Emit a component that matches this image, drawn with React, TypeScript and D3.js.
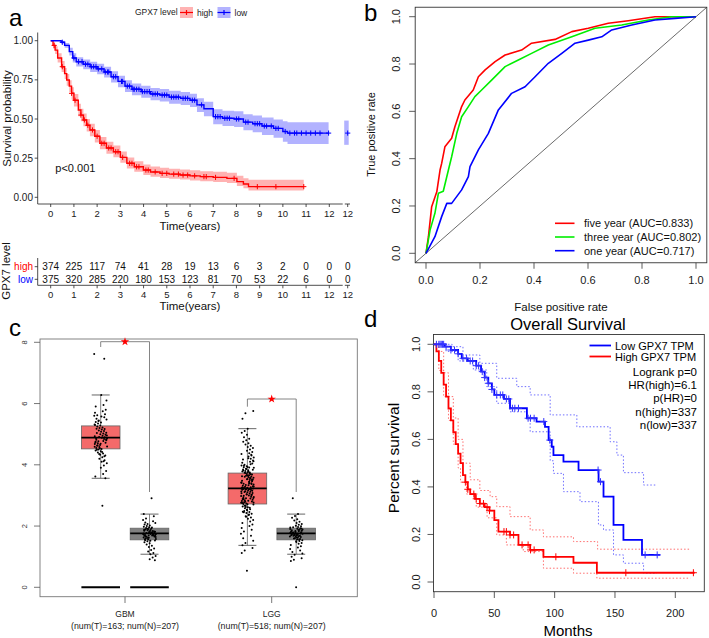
import React from "react";
import * as d3 from "d3";

const FONT = "'Liberation Sans', Arial, Helvetica, sans-serif";

// ---------------- Panel a: KM (years) ----------------
const yearTicks = [0, 1, 2, 3, 4, 5, 6, 7, 8, 9, 10, 11, 12];
const survTicks = [0, 0.25, 0.5, 0.75, 1];
const survTickLabels = ["0.00", "0.25", "0.50", "0.75", "1.00"];

const highT = [0,0.1,0.19,0.3,0.47,0.6,0.69,0.8,0.9,1.0,1.19,1.3,1.41,1.55,1.69,1.9,2.12,2.4,2.7,3.0,3.28,3.6,3.99,4.3,4.71,5.1,5.57,6.0,6.44,7.0,7.59,8.02,8.3,8.52,10.9];
const highS = [1.0,0.97,0.94,0.89,0.834,0.79,0.749,0.71,0.664,0.62,0.557,0.525,0.494,0.46,0.43,0.39,0.345,0.315,0.291,0.255,0.217,0.195,0.174,0.162,0.153,0.148,0.142,0.137,0.132,0.127,0.121,0.10,0.085,0.068,0.068];
const highU = [1.0,0.99,0.965,0.92,0.87,0.825,0.787,0.748,0.703,0.66,0.598,0.566,0.535,0.5,0.47,0.43,0.385,0.355,0.33,0.293,0.254,0.231,0.21,0.197,0.188,0.183,0.177,0.172,0.167,0.163,0.157,0.137,0.122,0.112,0.112];
const highL = [1.0,0.95,0.915,0.86,0.8,0.755,0.712,0.672,0.625,0.58,0.517,0.485,0.453,0.42,0.39,0.35,0.307,0.278,0.255,0.22,0.184,0.163,0.143,0.132,0.124,0.119,0.113,0.108,0.103,0.097,0.092,0.072,0.058,0.043,0.043];
const highCens = [0.15,0.5,0.9,1.05,1.3,1.45,1.6,1.8,2.0,2.2,2.3,2.5,2.6,2.8,2.9,3.1,3.4,3.5,3.7,3.8,4.1,4.2,4.5,4.8,5.0,5.3,5.5,5.7,5.9,6.2,6.6,6.7,7.1,7.9,8.9,9.7,10.9];

const lowT = [0,0.45,0.6,0.8,0.95,1.1,1.4,1.7,2.0,2.3,2.6,2.9,3.2,3.5,3.9,4.3,4.7,5.1,5.6,6.0,6.3,6.6,7.0,7.4,7.9,8.3,8.7,9.1,9.6,10.0,10.2,11.97];
const lowS = [1.0,0.99,0.97,0.93,0.89,0.866,0.85,0.834,0.82,0.80,0.77,0.74,0.71,0.69,0.675,0.66,0.653,0.64,0.632,0.62,0.59,0.565,0.515,0.505,0.5,0.48,0.47,0.455,0.44,0.42,0.41,0.41];
const lowU = [1.0,1.0,0.985,0.955,0.92,0.895,0.88,0.866,0.853,0.834,0.805,0.776,0.747,0.727,0.712,0.698,0.692,0.68,0.673,0.662,0.633,0.61,0.562,0.553,0.549,0.53,0.522,0.51,0.497,0.485,0.48,0.48];
const lowL = [1.0,0.98,0.955,0.905,0.86,0.835,0.818,0.8,0.785,0.765,0.733,0.703,0.672,0.652,0.636,0.62,0.612,0.598,0.59,0.577,0.545,0.518,0.466,0.455,0.449,0.428,0.416,0.398,0.38,0.355,0.34,0.34];
const lowCens = [0.5,1.0,1.2,1.35,1.5,1.6,1.75,1.85,1.95,2.05,2.2,2.35,2.45,2.5,2.7,2.8,3.05,3.1,3.3,3.4,3.55,3.6,3.7,3.8,3.95,4.05,4.15,4.25,4.4,4.5,4.6,4.8,4.9,5.0,5.2,5.3,5.4,5.5,5.7,5.8,5.9,6.1,6.2,6.5,7.1,7.2,7.3,7.5,7.6,7.7,8.0,8.1,8.4,8.5,8.8,8.9,9.0,9.2,9.3,9.5,9.7,9.8,10.1,10.3,10.5,10.6,10.8,11.0,11.2,11.4,11.6,11.97];
const lowBreak = { s: 0.41, u: 0.49, l: 0.335 };

const riskHigh = [374,225,117,74,41,28,19,13,6,3,2,0,0,0];
const riskLow = [375,320,285,220,180,153,123,81,70,53,22,6,0,0];
const riskTickLabels = ["0","1","2","3","4","5","6","7","8","9","10","11","12","12"];

// ---------------- Panel b: ROC ----------------
const rocTicks = [0, 0.2, 0.4, 0.6, 0.8, 1.0];
const roc5F = [0,0.009,0.021,0.04,0.052,0.058,0.07,0.095,0.107,0.132,0.144,0.175,0.194,0.219,0.256,0.293,0.354,0.391,0.478,0.54,0.601,0.675,0.749,0.848,1.0];
const roc5T = [0,0.07,0.197,0.26,0.352,0.38,0.45,0.486,0.535,0.62,0.648,0.69,0.746,0.775,0.81,0.838,0.859,0.888,0.904,0.937,0.951,0.972,0.983,1.0,1.0];
const roc3F = [0,0.015,0.033,0.046,0.064,0.083,0.095,0.114,0.132,0.157,0.181,0.206,0.243,0.293,0.342,0.391,0.453,0.54,0.626,0.725,0.823,0.91,1.0];
const roc3T = [0,0.098,0.169,0.254,0.262,0.352,0.408,0.507,0.577,0.62,0.662,0.69,0.732,0.789,0.817,0.845,0.88,0.915,0.951,0.965,0.986,1.0,1.0];
const roc1F = [0,0.033,0.058,0.077,0.095,0.132,0.157,0.163,0.194,0.231,0.268,0.317,0.367,0.404,0.453,0.503,0.552,0.601,0.651,0.688,0.762,0.848,0.922,1.0];
const roc1T = [0,0.07,0.155,0.211,0.211,0.268,0.324,0.366,0.437,0.507,0.606,0.676,0.704,0.746,0.803,0.845,0.888,0.901,0.915,0.944,0.965,0.986,0.993,1.0];
const rocLabels = ["five year (AUC=0.833)", "three year (AUC=0.802)", "one year (AUC=0.717)"];

// ---------------- Panel c: boxplots ----------------
const cCats = ["GBM", "LGG"];
const cCatSub = ["(num(T)=163; num(N)=207)", "(num(T)=518; num(N)=207)"];
const cTicks = [0, 2, 4, 6, 8];
const boxQ1 = [4.52, 1.55, 2.72, 1.55];
const boxMed = [4.89, 1.76, 3.23, 1.76];
const boxQ3 = [5.27, 1.93, 3.73, 1.93];
const whiskLo = [3.56, 1.08, 1.37, 1.08];
const whiskHi = [6.28, 2.39, 5.18, 2.39];
const gbmT = [7.62,7.46,6.28,6.1,5.95,5.9,5.8,5.75,5.7,5.65,5.62,5.6,5.55,5.5,5.48,5.45,5.4,5.38,5.35,5.3,5.28,5.25,5.22,5.2,5.18,5.15,5.12,5.1,5.08,5.05,5.02,5.0,4.98,4.95,4.93,4.9,4.88,4.86,4.84,4.82,4.8,4.78,4.75,4.72,4.7,4.68,4.65,4.62,4.6,4.58,4.55,4.52,4.5,4.47,4.44,4.4,4.37,4.33,4.3,4.25,4.2,4.15,4.1,4.05,3.98,3.9,3.8,3.7,3.62,3.56,2.66,5.32,5.17,5.04,4.96,4.91,4.87,4.83,4.77,4.73,4.69,4.64,4.59,4.54,4.49,4.42,4.35,4.28,5.58,5.43,4.12];
const gbmN = [2.91,2.39,2.32,2.25,2.2,2.16,2.12,2.1,2.07,2.05,2.02,2.0,1.98,1.96,1.94,1.92,1.9,1.89,1.87,1.86,1.84,1.83,1.81,1.8,1.79,1.78,1.77,1.76,1.75,1.74,1.73,1.72,1.71,1.7,1.69,1.68,1.66,1.65,1.63,1.62,1.6,1.58,1.56,1.54,1.52,1.5,1.47,1.44,1.4,1.36,1.32,1.27,1.22,1.17,1.12,1.08,1.02,0.97,0.92,0.88,1.95,1.88,1.82,1.78,1.74,1.7,1.67,1.64,1.61,1.57,1.53,1.91,1.85,1.81,1.77,1.73,1.69];
const lggT = [5.76,5.68,5.5,5.18,5.1,5.05,4.98,4.9,4.85,4.8,4.75,4.7,4.66,4.62,4.58,4.55,4.5,4.46,4.42,4.38,4.35,4.3,4.27,4.24,4.2,4.17,4.14,4.1,4.07,4.04,4.0,3.98,3.95,3.92,3.9,3.87,3.85,3.82,3.8,3.78,3.76,3.74,3.72,3.7,3.68,3.66,3.64,3.62,3.6,3.58,3.56,3.54,3.52,3.5,3.48,3.46,3.44,3.42,3.4,3.38,3.36,3.34,3.32,3.3,3.28,3.26,3.25,3.24,3.23,3.22,3.21,3.2,3.19,3.18,3.16,3.14,3.12,3.1,3.08,3.06,3.04,3.02,3.0,2.98,2.96,2.94,2.92,2.9,2.88,2.86,2.84,2.82,2.8,2.78,2.76,2.74,2.72,2.7,2.67,2.64,2.61,2.58,2.55,2.52,2.49,2.46,2.43,2.4,2.36,2.32,2.28,2.24,2.2,2.15,2.1,2.05,2.0,1.94,1.88,1.82,1.75,1.68,1.6,1.52,1.45,1.37,1.28,1.2,1.12,0.54,3.97,3.91,3.86,3.81,3.77,3.73,3.69,3.65,3.61,3.57,3.53,3.49,3.45,3.41,3.37,3.33,3.29,3.27,3.245,3.225,3.205,3.185,3.15,3.11,3.07,3.03,2.99,2.95,2.91,2.87,2.83,2.79,2.75,2.71,2.66,2.6,2.53,2.45,2.38,2.3,4.33,4.21,4.12,4.02,3.93,3.84,3.75,3.63,3.51,3.39,3.13,3.01,2.89,2.77,2.62,2.47];
const lggN = [2.91,2.39,2.33,2.27,2.22,2.18,2.14,2.1,2.07,2.04,2.01,1.99,1.97,1.95,1.93,1.91,1.89,1.88,1.86,1.85,1.83,1.82,1.8,1.79,1.78,1.77,1.76,1.75,1.74,1.73,1.72,1.71,1.7,1.69,1.68,1.67,1.65,1.64,1.62,1.6,1.58,1.56,1.54,1.51,1.48,1.45,1.42,1.38,1.34,1.3,1.25,1.2,1.15,1.1,1.06,1.0,0.95,0.9,0.86,0.0,1.96,1.9,1.84,1.79,1.75,1.71,1.68,1.63,1.59,1.55,1.5,1.92,1.87,1.81,1.76,1.72,1.66];

// ---------------- Panel d: KM (months) ----------------
const monthTicks = [0, 50, 100, 150, 200];
const pctTicks = [0, 0.2, 0.4, 0.6, 0.8, 1.0];
const dLowT = [0,9,14,20,23,28,35,39,42,45,48,50,58,63,77,85,92,95,97.6,99,107.3,119.8,136.4,140.5,148.8,157,172.4,187.5];
const dLowS = [1,0.99,0.976,0.96,0.941,0.93,0.91,0.885,0.86,0.836,0.81,0.787,0.77,0.731,0.689,0.675,0.653,0.597,0.569,0.534,0.506,0.471,0.422,0.359,0.24,0.177,0.114,0.114];
const dLowUT = [0,15,24,38,52,68.6,79.7,96.3,118.4,146,151.6,157,173.7,184.8];
const dLowUV = [1,0.99,0.955,0.92,0.857,0.822,0.787,0.703,0.653,0.59,0.534,0.46,0.408,0.408];
const dLowLT = [0,10,20,32.6,43.7,52,63,77,79.7,96.3,99,107.3,121,136.3,140.5,148.8,157,173.7,184.8];
const dLowLV = [1,0.97,0.93,0.892,0.822,0.752,0.716,0.695,0.632,0.51,0.457,0.38,0.338,0.24,0.219,0.114,0.079,0.037,0.037];
const dLowCens = [2,4,5,6,7,8,10,14,17,20,24,27,30,32,35,37,40,42,45,48,52,55,57,60,62,65,67,70,78,80,83,91,96,136,138,175,185];

const dHighT = [0,2,4,6,8,10,12,14,16,18,20,22,24,26,28,30,34,38,42,46,50,53.4,63,70,79.7,90.7,115.6,135,216];
const dHighS = [1,0.97,0.93,0.88,0.83,0.78,0.73,0.68,0.63,0.58,0.54,0.5,0.45,0.42,0.39,0.37,0.35,0.33,0.315,0.3,0.26,0.212,0.198,0.156,0.135,0.106,0.081,0.039,0.039];
const dHighUT = [0,4,8,12,16,20,24,30,38,46.5,52,63,79.7,90.7,115.6,135.6,212.4];
const dHighUV = [1,0.97,0.88,0.78,0.69,0.6,0.5,0.43,0.385,0.359,0.317,0.275,0.219,0.19,0.17,0.138,0.138];
const dHighLT = [0,4,8,12,16,20,22,27,35,44,52,60,74,90.7,115.6,135,212.4];
const dHighLV = [1,0.89,0.78,0.68,0.58,0.48,0.42,0.37,0.315,0.27,0.198,0.156,0.128,0.058,0.037,0.016,0.016];
const dHighCens = [26,28,33,35,38,41,44,46,58,60,63,66,73,78,80,83,101,159,215];
const dStats = ["Logrank p=0", "HR(high)=6.1", "p(HR)=0", "n(high)=337", "n(low)=337"];

// ---------------- helpers ----------------
function stepAt(T: number[], V: number[], t: number) {
  let v = V[0];
  for (let i = 0; i < T.length; i++) if (T[i] <= t) v = V[i];
  return v;
}
const cross = (x: number, y: number, s: number) => `M${x - s},${y}H${x + s}M${x},${y - s}V${y + s}`;
const jit = (i: number) => (((i * 0.6180339887 + ((i * 0.4142135) % 1) * 0.37) % 1) - 0.5) * 13;

export default function App() {
  // ---- a ----
  const xA = d3.scaleLinear().domain([0, 12]).range([50.7, 329.3]);
  const yA = d3.scaleLinear().domain([0, 1]).range([197.3, 40.7]);
  const breakX = 347.7;
  const stepLineA = (T: number[], S: number[]) =>
    d3.line<number>().x((_, i) => xA(T[i])).y((d) => yA(d)).curve(d3.curveStepAfter)(S) || "";
  const bandA = (T: number[], U: number[], L: number[]) =>
    d3.area<number>().x((_, i) => xA(T[i])).y0((_, i) => yA(L[i])).y1((_, i) => yA(U[i])).curve(d3.curveStepAfter)(T) || "";
  const riskX = (i: number) => (i < 13 ? xA(i) : breakX);

  // ---- b ----
  const xB = d3.scaleLinear().domain([0, 1]).range([426, 696]);
  const yB = d3.scaleLinear().domain([0, 1]).range([253.3, 16.7]);
  const rocLine = (F: number[], T: number[]) =>
    d3.line<number>().x((d) => xB(d)).y((_, i) => yB(T[i]))(F) || "";
  const bBox = { x0: xB(-0.04), x1: xB(1.04), y0: yB(1.04), y1: yB(-0.04) };
  const rocSeries = [
    { F: roc5F, T: roc5T, c: "#FF0000" },
    { F: roc3F, T: roc3T, c: "#00EE00" },
    { F: roc1F, T: roc1T, c: "#0000FF" },
  ];

  // ---- c ----
  const yC = d3.scaleLinear().domain([0, 8]).range([587.3, 342.3]);
  const xCat = d3.scalePoint<string>().domain(cCats).range([125, 271.7]);
  const boxCenters = [xCat("GBM")! - 24.3, xCat("GBM")! + 24.5, xCat("LGG")! - 24.3, xCat("LGG")! + 24.5];
  const boxFill = ["#F46A6A", "#808080", "#F46A6A", "#808080"];
  const pointSets = [gbmT, gbmN, lggT, lggN];
  const bw = 19.3;

  // ---- d ----
  const xD = d3.scaleLinear().domain([0, 200]).range([434, 675.3]);
  const yD = d3.scaleLinear().domain([0, 1]).range([582, 344.3]);
  const stepLineD = (T: number[], S: number[]) =>
    d3.line<number>().x((_, i) => xD(T[i])).y((d) => yD(d)).curve(d3.curveStepAfter)(S) || "";

  const axisTxt = "#1a1a1a";

  return (
    <svg width={709} height={638} style={{ position: "absolute", left: 0, top: 0, background: "#fff" }} fontFamily={FONT}>
      <rect x={0} y={0} width={709} height={638} fill="#fff" />
      {/* ================= Panel a ================= */}
      <text x={9} y={26} fontSize={24}>a</text>
      <text x={135} y={15} fontSize={8.5} fill="#222">GPX7 level</text>
      <rect x={180} y={7} width={13} height={11} fill="#FFB3B3" />
      <path d={`M180,12.5H193`} stroke="#FF0000" strokeWidth={1.2} />
      <path d={cross(186.5, 12.5, 2.5)} stroke="#FF0000" strokeWidth={1.2} />
      <text x={197} y={15.5} fontSize={8.5} fill="#222">high</text>
      <rect x={217.5} y={7} width={13} height={11} fill="#B3B3FF" />
      <path d={`M217.5,12.5H230.5`} stroke="#0000FF" strokeWidth={1.2} />
      <path d={cross(224, 12.5, 2.5)} stroke="#0000FF" strokeWidth={1.2} />
      <text x={234.5} y={15.5} fontSize={8.5} fill="#222">low</text>

      <path d={bandA(highT, highU, highL)} fill="#FF0000" fillOpacity={0.3} />
      <path d={bandA(lowT, lowU, lowL)} fill="#0000FF" fillOpacity={0.3} />
      <rect x={breakX - 3.5} y={yA(lowBreak.u)} width={4.5} height={yA(lowBreak.l) - yA(lowBreak.u)} fill="#0000FF" fillOpacity={0.3} />
      <path d={stepLineA(highT, highS)} fill="none" stroke="#FF0000" strokeWidth={1.4} />
      <path d={stepLineA(lowT, lowS)} fill="none" stroke="#0000FF" strokeWidth={1.4} />
      {highCens.map((t, i) => (
        <path key={"hc" + i} d={cross(xA(t), yA(stepAt(highT, highS, t)), 2.6)} stroke="#FF0000" strokeWidth={1} />
      ))}
      {lowCens.map((t, i) => (
        <path key={"lc" + i} d={cross(xA(t), yA(stepAt(lowT, lowS, t)), 2.6)} stroke="#0000FF" strokeWidth={1} />
      ))}
      <path d={cross(breakX, yA(lowBreak.s), 2.6)} stroke="#0000FF" strokeWidth={1} />
      <text x={xA(0.2)} y={yA(0.25) + 14} fontSize={11} fill="#111">p&lt;0.001</text>

      <path d={`M37.7,32.5V204`} stroke="#222" strokeWidth={0.8} />
      <path d={`M37.7,204H342.7M344.8,204H350`} stroke="#222" strokeWidth={0.8} />
      {survTicks.map((v, i) => (
        <g key={"sa" + i}>
          <path d={`M34.7,${yA(v)}H37.7`} stroke="#222" strokeWidth={0.8} />
          <text x={33} y={yA(v) + 3.5} fontSize={10} textAnchor="end" fill={axisTxt}>{survTickLabels[i]}</text>
        </g>
      ))}
      {yearTicks.map((t) => (
        <g key={"xa" + t}>
          <path d={`M${xA(t)},204V207`} stroke="#222" strokeWidth={0.8} />
          <text x={xA(t)} y={217} fontSize={9.5} textAnchor="middle" fill={axisTxt}>{t}</text>
        </g>
      ))}
      <path d={`M${breakX},204V207`} stroke="#222" strokeWidth={0.8} />
      <text x={breakX} y={217} fontSize={9.5} textAnchor="middle" fill={axisTxt}>12</text>
      <text x={xA(6)} y={229.5} fontSize={11.5} textAnchor="middle" fill="#111">Time(years)</text>
      <text transform={`translate(11,${118.5}) rotate(-90)`} fontSize={11.5} textAnchor="middle" fill="#111">Survival probability</text>

      <text transform={`translate(10,${271}) rotate(-90)`} fontSize={11.5} textAnchor="middle" fill="#111">GPX7 level</text>
      <text x={33} y={270.3} fontSize={10} textAnchor="end" fill="#FF0000">high</text>
      <text x={33} y={283} fontSize={10} textAnchor="end" fill="#0000FF">low</text>
      <path d={`M37.7,258V285.3H342.7M344.8,285.3H350`} stroke="#222" strokeWidth={0.8} fill="none" />
      <path d={`M34.7,266.7H37.7M34.7,279.3H37.7`} stroke="#222" strokeWidth={0.8} />
      {riskHigh.map((n, i) => (
        <text key={"rh" + i} x={riskX(i)} y={270.3} fontSize={10} textAnchor="middle" fill="#111">{n}</text>
      ))}
      {riskLow.map((n, i) => (
        <text key={"rl" + i} x={riskX(i)} y={283} fontSize={10} textAnchor="middle" fill="#111">{n}</text>
      ))}
      {riskTickLabels.map((lab, i) => (
        <g key={"rt" + i}>
          <path d={`M${riskX(i)},285.3V288.3`} stroke="#222" strokeWidth={0.8} />
          <text x={riskX(i)} y={297.5} fontSize={9.5} textAnchor="middle" fill={axisTxt}>{lab}</text>
        </g>
      ))}
      <text x={xA(6)} y={309.5} fontSize={11.5} textAnchor="middle" fill="#111">Time(years)</text>

      {/* ================= Panel b ================= */}
      <text x={364} y={21} fontSize={24}>b</text>
      <line x1={bBox.x0} y1={bBox.y1} x2={bBox.x1} y2={bBox.y0} stroke="#444" strokeWidth={0.8} />
      {rocSeries.map((s, k) => (
        <path key={"roc" + k} d={rocLine(s.F, s.T)} fill="none" stroke={s.c} strokeWidth={1.6} strokeLinejoin="round" />
      ))}
      <rect x={bBox.x0} y={bBox.y0} width={bBox.x1 - bBox.x0} height={bBox.y1 - bBox.y0} fill="none" stroke="#333" strokeWidth={0.9} />
      {rocTicks.map((v) => (
        <g key={"bt" + v}>
          <path d={`M${bBox.x0 - 6},${yB(v)}H${bBox.x0}`} stroke="#333" strokeWidth={0.8} />
          <text transform={`translate(400,${yB(v)}) rotate(-90)`} fontSize={11} textAnchor="middle" fill={axisTxt}>{v.toFixed(1)}</text>
          <path d={`M${xB(v)},${bBox.y1}V${bBox.y1 + 6}`} stroke="#333" strokeWidth={0.8} />
          <text x={xB(v)} y={284} fontSize={11} textAnchor="middle" fill={axisTxt}>{v.toFixed(1)}</text>
        </g>
      ))}
      <text transform={`translate(375,${134.5}) rotate(-90)`} fontSize={11} textAnchor="middle" fill="#111">True positive rate</text>
      <text x={561} y={310.5} fontSize={11.5} textAnchor="middle" fill="#111">False positive rate</text>
      {rocLabels.map((lab, k) => (
        <g key={"bl" + k}>
          <path d={`M555,${223.3 + k * 13.7}H574.5`} stroke={rocSeries[k].c} strokeWidth={1.6} />
          <text x={584} y={223.3 + k * 13.7 + 4} fontSize={11} fill="#111">{lab}</text>
        </g>
      ))}

      {/* ================= Panel c ================= */}
      <text x={9} y={336} fontSize={24}>c</text>
      <rect x={40} y={339} width={317.3} height={257.7} fill="none" stroke="#777" strokeWidth={0.9} />
      {cTicks.map((v) => (
        <g key={"ct" + v}>
          <path d={`M34,${yC(v)}H40`} stroke="#555" strokeWidth={0.8} />
          <text transform={`translate(26.5,${yC(v)}) rotate(-90)`} fontSize={7.5} textAnchor="middle" fill="#333">{v}</text>
        </g>
      ))}
      {cCats.map((c, i) => (
        <g key={"cc" + c}>
          <path d={`M${xCat(c)},596.7V603`} stroke="#555" strokeWidth={0.8} />
          <text x={xCat(c)} y={616.5} fontSize={8.5} textAnchor="middle" fill="#222">{c}</text>
          <text x={xCat(c)} y={628.5} fontSize={8.8} textAnchor="middle" fill="#222">{cCatSub[i]}</text>
        </g>
      ))}
      <path d={`M${boxCenters[0] - bw},${yC(0)}H${boxCenters[0] + bw}M${boxCenters[1] - bw},${yC(0)}H${boxCenters[1] + bw}`} stroke="#000" strokeWidth={2} />
      {boxCenters.map((cx, i) => (
        <g key={"bx" + i}>
          <path d={`M${cx},${yC(whiskHi[i])}V${yC(whiskLo[i])}`} stroke="#666" strokeWidth={0.8} />
          <path d={`M${cx - 9},${yC(whiskHi[i])}H${cx + 9}M${cx - 9},${yC(whiskLo[i])}H${cx + 9}`} stroke="#555" strokeWidth={0.9} />
          <rect x={cx - bw} y={yC(boxQ3[i])} width={bw * 2} height={yC(boxQ1[i]) - yC(boxQ3[i])} fill={boxFill[i]} stroke="#666" strokeWidth={0.8} />
        </g>
      ))}
      {pointSets.map((set, k) =>
        set.map((v, i) => <circle key={"pt" + k + "_" + i} cx={boxCenters[k] + jit(i + k * 7)} cy={yC(v)} r={1.0} fill="#000" />)
      )}
      {boxCenters.map((cx, i) => (
        <path key={"md" + i} d={`M${cx - bw},${yC(boxMed[i])}H${cx + bw}`} stroke="#000" strokeWidth={1.8} />
      ))}
      <path d={`M${boxCenters[0]},347V341.7H${boxCenters[1]}V492`} fill="none" stroke="#666" strokeWidth={0.8} />
      <path d={`M${boxCenters[2]},406.7V399H${boxCenters[3]}V492`} fill="none" stroke="#666" strokeWidth={0.8} />
      <path transform={`translate(${xCat("GBM")},341.7)`} d={d3.symbol(d3.symbolStar, 22)() || ""} fill="#FF0000" />
      <path transform={`translate(${xCat("LGG")},399)`} d={d3.symbol(d3.symbolStar, 22)() || ""} fill="#FF0000" />

      {/* ================= Panel d ================= */}
      <text x={364} y={327} fontSize={24}>d</text>
      <text x={568} y={329.5} fontSize={16.5} textAnchor="middle" fill="#000">Overall Survival</text>
      <rect x={433.5} y={334.5} width={270.8} height={257.2} fill="none" stroke="#333" strokeWidth={0.9} />
      {pctTicks.map((v) => (
        <g key={"dt" + v}>
          <path d={`M427.5,${yD(v)}H433.5`} stroke="#333" strokeWidth={0.8} />
          <text transform={`translate(420,${yD(v)}) rotate(-90)`} fontSize={11} textAnchor="middle" fill={axisTxt}>{v.toFixed(1)}</text>
        </g>
      ))}
      {monthTicks.map((m) => (
        <g key={"dm" + m}>
          <path d={`M${xD(m)},591.7V598`} stroke="#333" strokeWidth={0.8} />
          <text x={xD(m)} y={617} fontSize={11} textAnchor="middle" fill={axisTxt}>{m}</text>
        </g>
      ))}
      <text x={568} y={636} fontSize={15} textAnchor="middle" fill="#000">Months</text>
      <text transform={`translate(398.5,458) rotate(-90)`} fontSize={15.5} textAnchor="middle" fill="#000">Percent survival</text>

      <path d={stepLineD(dLowUT, dLowUV)} fill="none" stroke="#6F6FFF" strokeWidth={1} strokeDasharray="1.5,2" />
      <path d={stepLineD(dLowLT, dLowLV)} fill="none" stroke="#6F6FFF" strokeWidth={1} strokeDasharray="1.5,2" />
      <path d={stepLineD(dHighUT, dHighUV)} fill="none" stroke="#FF6F6F" strokeWidth={1} strokeDasharray="1.5,2" />
      <path d={stepLineD(dHighLT, dHighLV)} fill="none" stroke="#FF6F6F" strokeWidth={1} strokeDasharray="1.5,2" />
      <path d={stepLineD(dHighT, dHighS)} fill="none" stroke="#FF0000" strokeWidth={1.8} />
      <path d={stepLineD(dLowT, dLowS)} fill="none" stroke="#0000FF" strokeWidth={1.8} />
      {dHighCens.map((t, i) => (
        <path key={"dhc" + i} d={cross(xD(t), yD(stepAt(dHighT, dHighS, t)), 3.5)} stroke="#FF0000" strokeWidth={1} />
      ))}
      {dLowCens.map((t, i) => (
        <path key={"dlc" + i} d={cross(xD(t), yD(stepAt(dLowT, dLowS, t)), 3.5)} stroke="#3333FF" strokeWidth={1} />
      ))}
      <path d="M589.5,345.5H611" stroke="#0000FF" strokeWidth={1.8} />
      <path d="M589.5,356.5H611" stroke="#FF0000" strokeWidth={1.8} />
      <text x={615} y={349.5} fontSize={11} fill="#000">Low GPX7 TPM</text>
      <text x={615} y={360.5} fontSize={11} fill="#000">High GPX7 TPM</text>
      {dStats.map((s, i) => (
        <text key={"ds" + i} x={697} y={376 + i * 13.2} fontSize={11.5} textAnchor="end" fill="#000">{s}</text>
      ))}
    </svg>
  );
}
